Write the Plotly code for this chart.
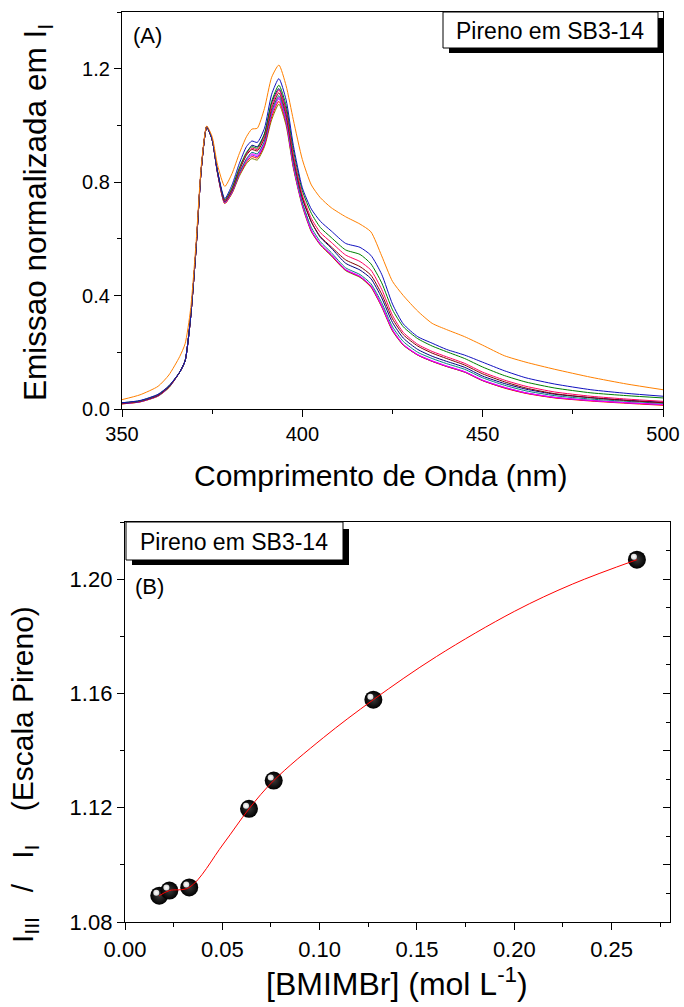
import plotly.graph_objects as go

W, H = 684, 1007

# ---------------- Panel A data: normalized pyrene emission spectra ----------------
wavelength = [350, 355, 360, 363, 366, 367.5, 369, 370.5, 372, 373.5, 375, 376.5, 378.5, 380.5,
              382.5, 384.5, 386, 387.5, 389.5, 391.5, 393.5, 395.5, 397.5, 400, 402.5, 405, 408,
              412, 416, 419, 422, 425, 428, 432, 436, 440, 445, 450, 456, 462, 470, 480, 490, 500]

spec_olive = [0.018, 0.025, 0.045, 0.075, 0.13, 0.17, 0.32, 0.56, 0.85, 0.995, 0.95, 0.83, 0.725, 0.76,
              0.82, 0.865, 0.883, 0.878, 0.925, 1.02, 1.075, 1.0, 0.85, 0.715, 0.625, 0.578, 0.54,
              0.488, 0.464, 0.43, 0.36, 0.275, 0.225, 0.19, 0.168, 0.15, 0.13, 0.1, 0.075, 0.056, 0.04, 0.03, 0.022, 0.015]
spec_red = [0.018, 0.025, 0.046, 0.076, 0.13, 0.17, 0.32, 0.56, 0.85, 0.995, 0.95, 0.83, 0.725, 0.762,
            0.825, 0.87, 0.89, 0.885, 0.93, 1.03, 1.085, 1.01, 0.855, 0.72, 0.628, 0.58, 0.542,
            0.49, 0.466, 0.432, 0.362, 0.277, 0.226, 0.19, 0.168, 0.15, 0.13, 0.1, 0.074, 0.055, 0.039, 0.028, 0.02, 0.013]
spec_magenta = [0.019, 0.026, 0.047, 0.077, 0.13, 0.17, 0.32, 0.56, 0.85, 0.995, 0.95, 0.832, 0.728, 0.765,
                0.83, 0.88, 0.9, 0.895, 0.94, 1.045, 1.1, 1.02, 0.86, 0.722, 0.63, 0.582, 0.545,
                0.492, 0.468, 0.435, 0.365, 0.28, 0.228, 0.192, 0.17, 0.152, 0.132, 0.102, 0.077, 0.057, 0.041, 0.03, 0.022, 0.016]
spec_purple = [0.019, 0.026, 0.047, 0.077, 0.13, 0.17, 0.32, 0.56, 0.85, 0.995, 0.95, 0.832, 0.728, 0.765,
               0.828, 0.876, 0.896, 0.89, 0.935, 1.04, 1.095, 1.015, 0.858, 0.72, 0.629, 0.581, 0.544,
               0.491, 0.467, 0.434, 0.364, 0.279, 0.227, 0.191, 0.169, 0.151, 0.131, 0.101, 0.076, 0.057, 0.041, 0.03, 0.022, 0.016]
spec_teal = [0.02, 0.027, 0.048, 0.078, 0.13, 0.17, 0.32, 0.56, 0.85, 0.995, 0.95, 0.833, 0.73, 0.768,
             0.832, 0.882, 0.905, 0.9, 0.945, 1.05, 1.105, 1.03, 0.87, 0.73, 0.64, 0.59, 0.552,
             0.498, 0.474, 0.442, 0.375, 0.29, 0.238, 0.2, 0.178, 0.16, 0.14, 0.11, 0.084, 0.064, 0.047, 0.035, 0.027, 0.02]
spec_navy = [0.02, 0.027, 0.048, 0.078, 0.13, 0.17, 0.32, 0.56, 0.85, 0.995, 0.95, 0.835, 0.735, 0.775,
             0.845, 0.9, 0.93, 0.925, 0.97, 1.08, 1.13, 1.055, 0.89, 0.745, 0.66, 0.605, 0.568,
             0.514, 0.49, 0.46, 0.392, 0.305, 0.25, 0.21, 0.186, 0.168, 0.147, 0.116, 0.09, 0.07, 0.052, 0.04, 0.031, 0.024]
spec_wine = [0.02, 0.028, 0.049, 0.079, 0.13, 0.17, 0.32, 0.56, 0.85, 0.995, 0.95, 0.834, 0.732, 0.772,
             0.84, 0.895, 0.915, 0.91, 0.955, 1.06, 1.115, 1.04, 0.885, 0.745, 0.66, 0.608, 0.572,
             0.526, 0.502, 0.472, 0.405, 0.318, 0.262, 0.222, 0.197, 0.178, 0.155, 0.124, 0.096, 0.074, 0.054, 0.04, 0.03, 0.022]
spec_crimson = [0.021, 0.028, 0.05, 0.08, 0.13, 0.17, 0.32, 0.56, 0.85, 0.995, 0.95, 0.835, 0.735, 0.775,
                0.845, 0.9, 0.92, 0.915, 0.96, 1.07, 1.125, 1.05, 0.895, 0.755, 0.672, 0.622, 0.588,
                0.543, 0.52, 0.49, 0.422, 0.33, 0.27, 0.228, 0.203, 0.184, 0.161, 0.13, 0.102, 0.08, 0.06, 0.045, 0.035, 0.027]
spec_green = [0.022, 0.029, 0.051, 0.081, 0.13, 0.17, 0.32, 0.56, 0.85, 0.995, 0.95, 0.836, 0.738, 0.78,
              0.85, 0.905, 0.925, 0.92, 0.97, 1.085, 1.142, 1.07, 0.915, 0.77, 0.69, 0.64, 0.605,
              0.561, 0.545, 0.512, 0.445, 0.35, 0.29, 0.248, 0.222, 0.202, 0.178, 0.148, 0.118, 0.095, 0.074, 0.057, 0.047, 0.039]
spec_blue = [0.022, 0.03, 0.052, 0.082, 0.13, 0.17, 0.32, 0.56, 0.85, 0.995, 0.95, 0.838, 0.742, 0.79,
             0.865, 0.925, 0.945, 0.94, 0.99, 1.11, 1.165, 1.09, 0.93, 0.78, 0.705, 0.662, 0.628,
             0.584, 0.57, 0.542, 0.475, 0.37, 0.3, 0.255, 0.232, 0.21, 0.19, 0.165, 0.135, 0.11, 0.088, 0.068, 0.055, 0.045]
spec_orange = [0.033, 0.05, 0.08, 0.12, 0.185, 0.23, 0.35, 0.58, 0.86, 0.998, 0.96, 0.86, 0.785, 0.83,
               0.9, 0.96, 0.987, 0.99, 1.06, 1.17, 1.213, 1.14, 1.02, 0.88, 0.79, 0.745, 0.71,
               0.678, 0.652, 0.625, 0.54, 0.45, 0.4, 0.345, 0.302, 0.28, 0.255, 0.225, 0.188, 0.165, 0.14, 0.112, 0.088, 0.068]

spectra = [
    (spec_olive, "#808000"), (spec_red, "#FF0000"), (spec_purple, "#8000FF"),
    (spec_magenta, "#FF00FF"), (spec_teal, "#008080"), (spec_navy, "#000080"),
    (spec_wine, "#800000"), (spec_crimson, "#FF0060"), (spec_green, "#008000"),
    (spec_blue, "#1010C0"), (spec_orange, "#FF8000"),
]

# ---------------- Panel B data: I_III / I_I vs [BMIMBr] ----------------
bmimbr = [0.0176, 0.0228, 0.0330, 0.0637, 0.0764, 0.1276, 0.263]
ratio = [1.0892, 1.0910, 1.0921, 1.1196, 1.1295, 1.1578, 1.2068]
fit_x = [0.0176, 0.0228, 0.0330, 0.0505, 0.0637, 0.0764, 0.1019, 0.1276, 0.16, 0.20, 0.23, 0.263]
fit_y = [1.0892, 1.0910, 1.0921, 1.1073, 1.1196, 1.1295, 1.1445, 1.1578, 1.1729, 1.1887, 1.1983, 1.2068]

FONT = "Liberation Sans"

def px_x(p):
    return p / W

def px_y(p):
    return 1 - p / H

# panel B pixel geometry (used for axis domains and the highlight overlay)
B_L, B_R, B_T, B_B = 125, 670, 522, 922
XR2 = [0, 0.28]
YR2 = [1.08, 1.22]
hx = 3 * (XR2[1] - XR2[0]) / (B_R - B_L)   # 3 px in x data units
hy = 3 * (YR2[1] - YR2[0]) / (B_B - B_T)   # 3 px in y data units

fig = go.Figure()
for ys, col in spectra:
    fig.add_trace(go.Scatter(x=wavelength, y=ys, mode="lines", line=dict(color=col, width=1, shape="spline", smoothing=0.6),
                             xaxis="x", yaxis="y", showlegend=False, hoverinfo="skip"))

fig.add_trace(go.Scatter(x=bmimbr, y=ratio, mode="markers",
                         marker=dict(size=18, color="black", line=dict(width=0),
                                     gradient=dict(type="radial", color="#3a3a3a")),
                         xaxis="x2", yaxis="y2", showlegend=False))
# specular highlight (same data, overlay axes shifted 3 px up-left)
fig.add_trace(go.Scatter(x=bmimbr, y=ratio, mode="markers",
                         marker=dict(size=6, color="#d8d8d8", line=dict(width=0),
                                     gradient=dict(type="radial", color="#ffffff")),
                         xaxis="x3", yaxis="y4", showlegend=False, hoverinfo="skip"))
fig.add_trace(go.Scatter(x=fit_x, y=fit_y, mode="lines", line=dict(color="#FF0000", width=1, shape="spline"),
                         xaxis="x2", yaxis="y2", showlegend=False))
fig.add_trace(go.Scatter(x=[bmimbr[0]], y=[ratio[0]], mode="markers", marker=dict(size=1, opacity=0),
                         xaxis="x2", yaxis="y3", showlegend=False, hoverinfo="skip"))

axis_common = dict(showline=True, linecolor="black", linewidth=1.3, ticks="outside", ticklen=7,
                   tickwidth=1.3, tickcolor="black", showgrid=False, zeroline=False, automargin=False,
                   tickfont=dict(family=FONT, size=20, color="black"))

fig.update_layout(
    width=W, height=H, margin=dict(l=0, r=0, t=0, b=0, autoexpand=False),
    paper_bgcolor="white", plot_bgcolor="white", showlegend=False,
    font=dict(family=FONT, color="black"),
    xaxis=dict(domain=[px_x(122), px_x(663)], range=[350, 500], dtick=50, tick0=350, anchor="y", mirror=True,
               minor=dict(dtick=25, ticklen=4, ticks="outside", tickcolor="black", tickwidth=1.3), **axis_common),
    yaxis=dict(domain=[px_y(409), px_y(12)], range=[0, 1.4], dtick=0.4, tick0=0, tickformat=".1f", anchor="x", mirror=True,
               minor=dict(dtick=0.2, ticklen=4, ticks="outside", tickcolor="black", tickwidth=1.3), **axis_common),
    xaxis2=dict(domain=[px_x(B_L), px_x(B_R)], range=XR2, dtick=0.05, tick0=0, tickformat=".2f", anchor="y2", mirror=True,
                minor=dict(dtick=0.025, ticklen=4, ticks="outside", tickcolor="black", tickwidth=1.3), **axis_common),
    yaxis2=dict(domain=[px_y(B_B), px_y(B_T)], range=YR2, dtick=0.04, tick0=1.08, tickformat=".2f", anchor="x2", mirror=True,
                minor=dict(dtick=0.02, ticklen=4, ticks="outside", tickcolor="black", tickwidth=1.3), **axis_common),
    yaxis3=dict(overlaying="y2", side="right", anchor="x2", range=YR2, dtick=0.02, tick0=1.08,
                ticks="inside", ticklen=7, tickwidth=1.3, tickcolor="black", showticklabels=False,
                showline=False, showgrid=False, zeroline=False, automargin=False,
                minor=dict(dtick=0.01, ticklen=4, ticks="inside", tickcolor="black", tickwidth=1.3)),
    xaxis3=dict(overlaying="x2", anchor="y4", range=[XR2[0] + hx, XR2[1] + hx], visible=False, automargin=False),
    yaxis4=dict(overlaying="y2", anchor="x3", range=[YR2[0] - hy, YR2[1] - hy], visible=False, automargin=False),
)
fig.layout.xaxis2.tickfont.size = 22
fig.layout.yaxis2.tickfont.size = 22

# label boxes with drop shadow
boxes = [((449, 18, 663, 53), (443, 12, 658, 48)), ((132, 529, 349, 565), (126, 522, 343, 560))]
for (sx0, sy0, sx1, sy1), (bx0, by0, bx1, by1) in boxes:
    fig.add_shape(type="rect", xref="paper", yref="paper", x0=px_x(sx0), x1=px_x(sx1), y0=px_y(sy1), y1=px_y(sy0),
                  fillcolor="black", line=dict(width=0))
    fig.add_shape(type="rect", xref="paper", yref="paper", x0=px_x(bx0), x1=px_x(bx1), y0=px_y(by1), y1=px_y(by0),
                  fillcolor="white", line=dict(color="black", width=1))

def ann(text, x, y, size, angle=0, xanchor="center"):
    fig.add_annotation(text=text, x=px_x(x), y=px_y(y), xref="paper", yref="paper", showarrow=False,
                       textangle=angle, xanchor=xanchor, yanchor="middle",
                       font=dict(family=FONT, size=size, color="black"))

NB = "\u00a0"
ann("Pireno em SB3-14", 550, 31, 23)
ann("Pireno em SB3-14", 234, 542, 23)
ann("(A)", 131, 36, 22, xanchor="left")
ann("(B)", 133, 586, 22, xanchor="left")
ann("Comprimento de Onda (nm)", 380, 475, 30)
ann("Emissao normalizada em I<sub>I</sub>", 37, 213, 31.5, angle=-90)
ann("[BMIMBr] (mol L<sup>-1</sup>)", 397, 982, 32)
ann("I<sub>III</sub>" + NB * 3 + "/" + NB * 3 + "I<sub>I</sub>" + NB * 4 + "(Escala Pireno)",
    24, 775, 30, angle=-90)

fig.write_html("out.html")
